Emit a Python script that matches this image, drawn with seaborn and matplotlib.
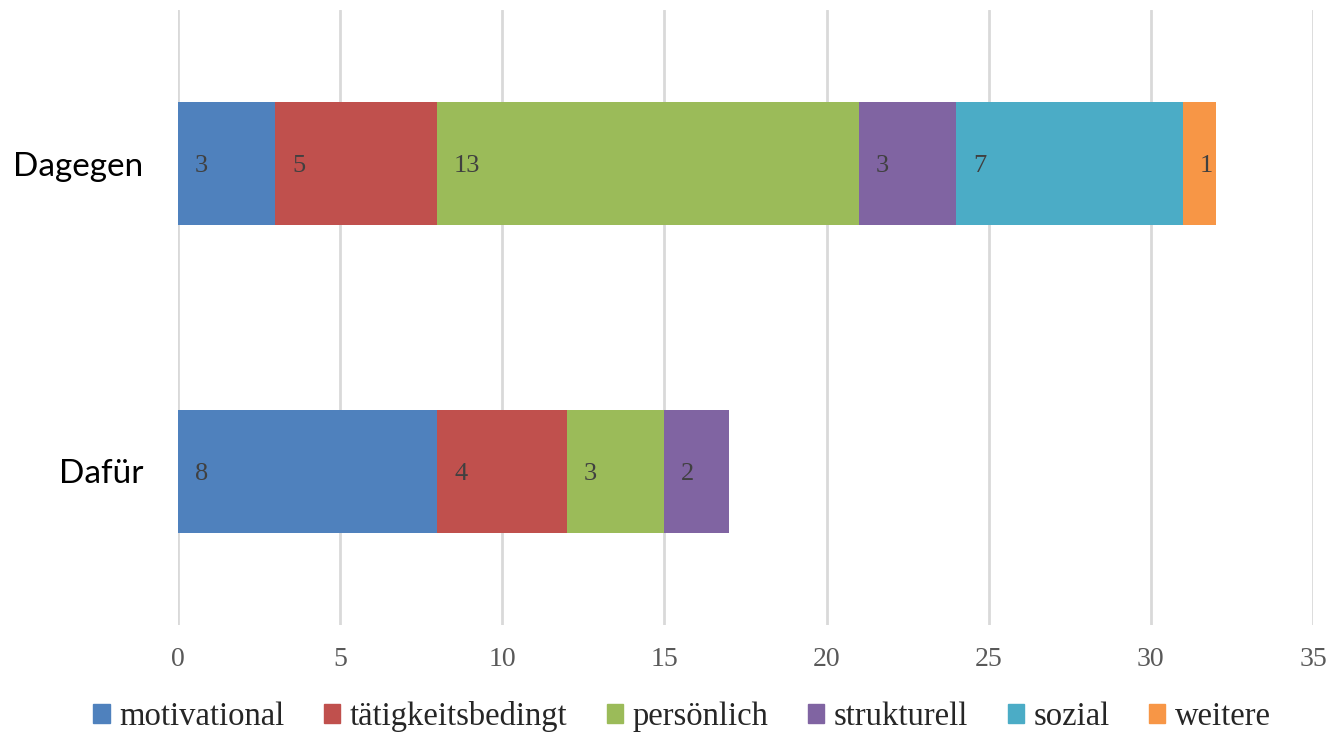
import matplotlib.pyplot as plt
import matplotlib.patches as mpatches
import numpy as np
import pandas as pd
import seaborn as sns

categories = ["Dagegen", "Dafür"]
series = ["motivational", "tätigkeitsbedingt", "persönlich", "strukturell", "sozial", "weitere"]
dagegen = [3, 5, 13, 3, 7, 1]
dafuer = [8, 4, 3, 2, 0, 0]
colors = ["#4F81BD", "#C0504D", "#9BBB59", "#8064A2", "#4BACC6", "#F79646"]
xticks = [0, 5, 10, 15, 20, 25, 30, 35]

sns.set_theme(style="white")
SERIF = ["Liberation Serif", "DejaVu Serif"]
SANS = ["Lato", "DejaVu Sans"]

df = pd.DataFrame({"Dagegen": dagegen, "Dafür": dafuer}, index=series)
cum = df.cumsum()
left = cum - df

fig = plt.figure(figsize=(13.3, 7.35), dpi=100)
ax = fig.add_axes([0.1338, 0.150, 0.8534, 0.836])

# stacked bars: draw cumulative totals from the last series backwards
for name, col in reversed(list(zip(series, colors))):
    long = pd.DataFrame({"cat": categories, "val": [cum.loc[name, c] for c in categories]})
    sns.barplot(data=long, x="val", y="cat", order=categories, color=col,
                width=0.4, saturation=1, edgecolor="none", linewidth=0, ax=ax, zorder=3)

for name in series:
    for i, c in enumerate(categories):
        v = df.loc[name, c]
        if v == 0:
            continue
        ax.annotate(str(v), (left.loc[name, c], i), xytext=(12, 0), textcoords="offset points",
                    ha="left", va="center_baseline", fontsize=19, color="#404040",
                    family=SERIF, zorder=4)

ax.set_xlim(0, 35)
ax.set_ylim(1.5, -0.5)
ax.set_xticks(xticks)
ax.set_xticklabels([str(t) for t in xticks], family=SERIF, fontsize=20, color="#595959")
ax.set_yticks(range(len(categories)))
ax.set_yticklabels(categories, family=SANS, fontsize=24, color="black")
ax.tick_params(axis="x", length=0, pad=16)
ax.tick_params(axis="y", length=0, pad=25)
ax.set_xlabel("")
ax.set_ylabel("")
ax.xaxis.grid(True, color="#D9D9D9", linewidth=2, zorder=0)
ax.yaxis.grid(False)
for s in ax.spines.values():
    s.set_visible(False)

handles = [mpatches.Patch(color=c, label=n) for n, c in zip(series, colors)]
leg = fig.legend(handles=handles, loc="center", bbox_to_anchor=(0.513, 0.025), ncol=6, frameon=False,
                 prop={"family": SERIF, "size": 23.5}, handlelength=0.5, handleheight=0.5,
                 handletextpad=0.3, columnspacing=1.2)

fig.savefig("out.png", dpi=100)
